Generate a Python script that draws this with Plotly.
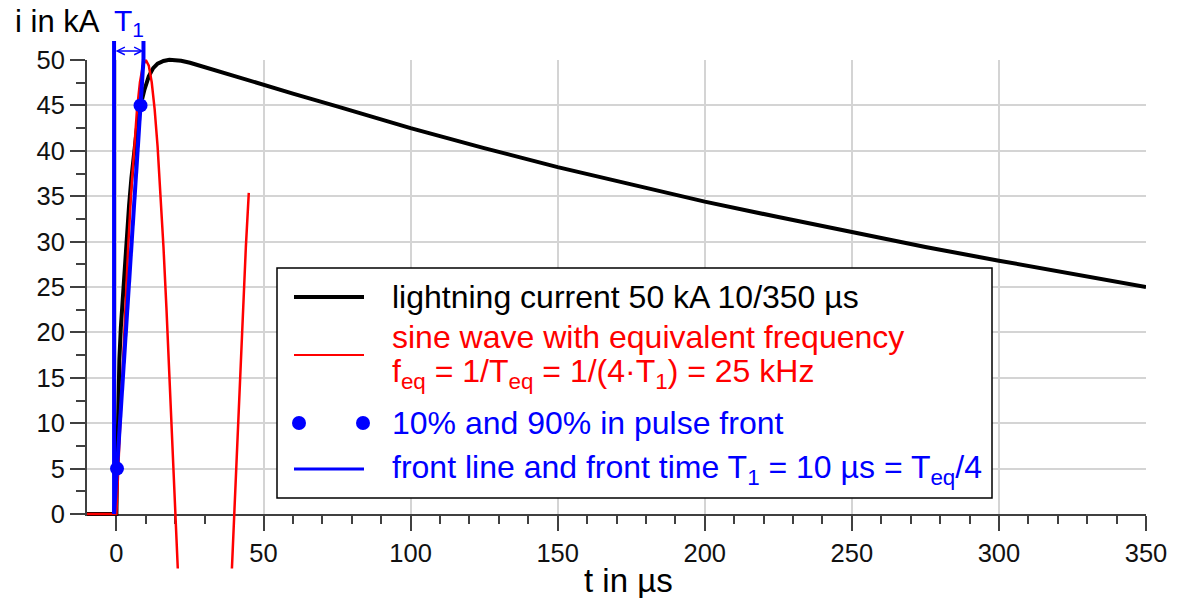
import plotly.graph_objects as go

# ---------------- data ----------------
t_black = [-10, 0, 0.1, 0.3, 0.6, 1.0, 1.5, 2.0, 2.7, 3.5, 4.3, 5.1, 6.0, 7.0, 8.2,
           9.5, 11.0, 12.5, 14.0, 16.0, 18.0, 20.0, 22.0, 25.0, 30, 35, 40, 45, 50,
           60, 75, 100, 125, 150, 175, 200, 225, 250, 275, 300, 325, 350]
i_black = [0, 0, 2.5, 7, 13, 17, 20.5, 23.2, 27, 30.5, 34, 37, 40, 42.6, 45.0,
           46.7, 48.2, 49.1, 49.6, 49.9, 50.02, 50.02, 49.92, 49.7, 49.2, 48.7, 48.2, 47.7, 47.25,
           46.3, 44.9, 42.5, 40.3, 38.2, 36.3, 34.4, 32.7, 31.0, 29.4, 27.9, 26.4, 25.0]

t_red = [-10, 0, 1, 2, 3, 4, 5, 6, 7, 8, 9, 10, 11, 12, 13, 14, 15, 16, 17, 18, 19,
         20, 21, 22, 23, 24, 25, 26, 27, 28, 29, 30, 31, 32, 33, 34, 35, 36, 37, 38,
         39, 40, 41, 42, 43, 44, 45]
i_red = [0, 0, 7.82, 15.45, 22.70, 29.39, 35.36, 40.45, 44.55, 47.55, 49.38, 50.0,
         49.38, 47.55, 44.55, 40.45, 35.36, 29.39, 22.70, 15.45, 7.82,
         0, -7.82, -15.45, -22.70, -29.39, -35.36, -40.45, -44.55, -47.55, -49.38, -50.0,
         -49.38, -47.55, -44.55, -40.45, -35.36, -29.39, -22.70, -15.45, -7.82,
         0, 7.82, 15.45, 22.70, 29.39, 35.36]

t_front = [-0.8, 9.2]          # front line (virtual origin .. origin + T1)
i_front = [0, 50]
t_points = [0.2, 8.2]          # 10 % and 90 % points
i_points = [5, 45]
t_bracket = [-0.8, 9.2]        # T1 bracket
i_bracket_top = 52.1
i_bracket_arrow = 51.0

x_ticks = [0, 50, 100, 150, 200, 250, 300, 350]
y_ticks = [0, 5, 10, 15, 20, 25, 30, 35, 40, 45, 50]
x_minor = [v for v in range(10, 350, 10) if v % 50]
y_minor = [v + 2.5 for v in y_ticks[:-1]]

# ---------------- layout geometry ----------------
W, H = 1185, 598
XL, XR = 87, 1146          # px of x=-10 and x=350
Y0, Y50 = 514, 60          # px of y=0 and y=50
sy = (Y0 - Y50) / 50.0
Y2MIN, Y2MAX = -6, 52.5


def py(p):
    return 1 - p / H


def px(p):
    return p / W


FONT = "Liberation Sans, Arial, sans-serif"
BLUE = "#0000ff"
RED = "#ff0000"
AX = "#404040"
GRID = "#d4d4d4"

fig = go.Figure()

# anchor trace so that the main (gridded) subplot is drawn
fig.add_trace(go.Scatter(x=[x_ticks[0]], y=[y_ticks[0]], mode="markers", xaxis="x", yaxis="y",
                         marker=dict(opacity=0, size=1), hoverinfo="skip", showlegend=False))

fig.add_trace(go.Scatter(x=t_black, y=i_black, mode="lines", xaxis="x2", yaxis="y2",
                         line=dict(color="black", width=4), showlegend=False))
fig.add_trace(go.Scatter(x=t_red, y=i_red, mode="lines", xaxis="x2", yaxis="y2",
                         line=dict(color=RED, width=2.5), showlegend=False))
fig.add_trace(go.Scatter(x=t_front, y=i_front, mode="lines", xaxis="x2", yaxis="y2",
                         line=dict(color=BLUE, width=4), showlegend=False))
fig.add_trace(go.Scatter(x=[t_bracket[0], t_bracket[0]], y=[0, i_bracket_top], mode="lines",
                         xaxis="x2", yaxis="y2", line=dict(color=BLUE, width=4), showlegend=False))
fig.add_trace(go.Scatter(x=[t_bracket[1], t_bracket[1]], y=[i_front[1], i_bracket_top], mode="lines",
                         xaxis="x2", yaxis="y2", line=dict(color=BLUE, width=4), showlegend=False))
fig.add_trace(go.Scatter(x=t_points, y=i_points, mode="markers", xaxis="x2", yaxis="y2",
                         marker=dict(color=BLUE, size=14), showlegend=False))

axis_common = dict(showline=True, linecolor=AX, linewidth=2, ticks="outside", tickcolor=AX,
                   tickwidth=2, ticklen=15, showgrid=True, gridcolor=GRID, gridwidth=1.5,
                   zeroline=False, automargin=False,
                   tickfont=dict(family=FONT, size=25.5, color="#111"))

y2_bottom_px = Y0 - Y2MIN * sy
y2_top_px = Y0 - Y2MAX * sy

fig.update_layout(
    width=W, height=H, autosize=False,
    margin=dict(l=0, r=0, t=0, b=0, pad=0, autoexpand=False),
    paper_bgcolor="white", plot_bgcolor="rgba(0,0,0,0)",
    font=dict(family=FONT, color="black"),
    xaxis=dict(domain=[px(XL), px(XR)], range=[-10, 350], tickvals=x_ticks, anchor="y",
               minor=dict(ticks="outside", ticklen=8, tickwidth=2, tickcolor=AX,
                          tickvals=x_minor, showgrid=False),
               **axis_common),
    yaxis=dict(domain=[py(Y0), py(Y50)], range=[0, 50], tickvals=y_ticks, anchor="x",
               minor=dict(ticks="outside", ticklen=9, tickwidth=2, tickcolor=AX,
                          tickvals=y_minor, showgrid=False),
               **axis_common),
    xaxis2=dict(domain=[px(XL), px(XR)], range=[-10, 350], anchor="y2", visible=False,
                automargin=False),
    yaxis2=dict(domain=[py(y2_bottom_px), py(y2_top_px)], range=[Y2MIN, Y2MAX],
                anchor="x2", visible=False, automargin=False),
)

# axis titles
fig.add_annotation(xref="paper", yref="paper", x=px(13), y=py(22), xanchor="left", yanchor="middle",
                   text="i in kA", showarrow=False, font=dict(family=FONT, size=31, color="black"))
fig.add_annotation(xref="paper", yref="paper", x=px(628), y=py(580), xanchor="center", yanchor="middle",
                   text="t in µs", showarrow=False, font=dict(family=FONT, size=33, color="black"))

# T1 bracket arrow and label
fig.add_annotation(xref="x2", yref="y2", axref="x2", ayref="y2",
                   x=t_bracket[1], y=i_bracket_arrow, ax=t_bracket[0], ay=i_bracket_arrow,
                   text="", showarrow=True, arrowside="end+start", arrowhead=5, startarrowhead=5,
                   arrowsize=1, startarrowsize=1, arrowwidth=1.5, arrowcolor=BLUE)
fig.add_annotation(xref="x2", yref="y2", x=(t_bracket[0] + t_bracket[1]) / 2, y=i_bracket_top,
                   xanchor="center", yanchor="bottom", yshift=-2, text="T<sub>1</sub>",
                   showarrow=False, font=dict(family=FONT, size=30, color=BLUE))

# ---------------- legend (drawn) ----------------
LX0, LX1, LY0, LY1 = 277, 992, 268, 498
fig.add_shape(type="rect", xref="paper", yref="paper", x0=px(LX0), x1=px(LX1), y0=py(LY1), y1=py(LY0),
              line=dict(color="black", width=1.5), fillcolor="white", layer="above")
SX0, SX1, TX = 294, 364, 390
LFS = 32
items_y = [297, 355, 423, 469]
fig.add_shape(type="line", xref="paper", yref="paper", x0=px(SX0), x1=px(SX1), y0=py(items_y[0]),
              y1=py(items_y[0]), line=dict(color="black", width=4), layer="above")
fig.add_shape(type="line", xref="paper", yref="paper", x0=px(SX0), x1=px(SX1), y0=py(items_y[1]),
              y1=py(items_y[1]), line=dict(color=RED, width=2), layer="above")
for cx in (299, 363):
    fig.add_shape(type="circle", xref="paper", yref="paper", x0=px(cx - 7), x1=px(cx + 7),
                  y0=py(items_y[2] + 7), y1=py(items_y[2] - 7), line=dict(color=BLUE, width=0),
                  fillcolor=BLUE, layer="above")
fig.add_shape(type="line", xref="paper", yref="paper", x0=px(SX0), x1=px(SX1), y0=py(items_y[3]),
              y1=py(items_y[3]), line=dict(color=BLUE, width=3), layer="above")

legend_texts = [
    (297, "lightning current 50 kA 10/350 µs", "black"),
    (337, "sine wave with equivalent frequency", RED),
    (373, "f<sub>eq</sub> = 1/T<sub>eq</sub> = 1/(4·T<sub>1</sub>) = 25 kHz", RED),
    (423, "10% and 90% in pulse front", BLUE),
    (469, "front line and front time T<sub>1</sub> = 10 µs = T<sub>eq</sub>/4", BLUE),
]
for yy, txt, col in legend_texts:
    fig.add_annotation(xref="paper", yref="paper", x=px(TX), y=py(yy), xanchor="left", yanchor="middle",
                       text=txt, showarrow=False, font=dict(family=FONT, size=LFS, color=col))

fig.write_html("out.html")
